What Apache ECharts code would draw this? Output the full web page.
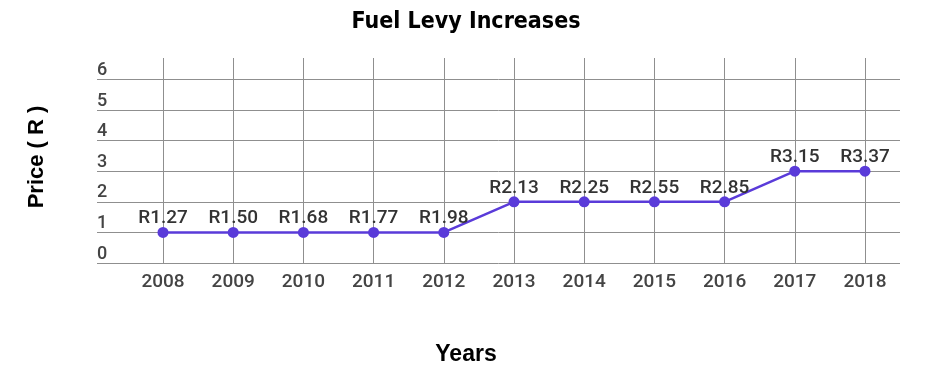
<!DOCTYPE html>
<html>
<head>
<meta charset="utf-8">
<script src="https://cdn.jsdelivr.net/npm/echarts@6/dist/echarts.min.js"></script>
<style>
html,body{margin:0;padding:0;background:#fff;}
#chart{width:941px;height:377px;}
</style>
</head>
<body>
<div id="chart"></div>
<script>
// Data
const years = ['2008','2009','2010','2011','2012','2013','2014','2015','2016','2017','2018'];
// Values as plotted in the reference (points sit on whole-rand gridlines)
const levyPlotted = [1, 1, 1, 1, 1, 2, 2, 2, 2, 3, 3];
// Data labels as printed in the reference
const levyLabels = ['R1.27','R1.50','R1.68','R1.77','R1.98','R2.13','R2.25','R2.55','R2.85','R3.15','R3.37'];
const yMin = 0, yMax = 6.7, yStep = 1;

const chart = echarts.init(document.getElementById('chart'), null, {renderer: 'canvas'});
const gridColor = '#8f8f8f';
const option = {
  animation: false,
  backgroundColor: '#fff',
  graphic: [
    {type: 'text', x: 466, y: 22, style: {text: 'Fuel Levy Increases', fontFamily: '"DejaVu Sans Condensed", "Liberation Sans"', fontWeight: 'bold', fontSize: 23, fill: '#000', textAlign: 'center', textVerticalAlign: 'middle'}},
    {type: 'text', x: 466, y: 355, style: {text: 'Years', fontFamily: 'Liberation Sans', fontWeight: 'bold', fontSize: 23, fill: '#000', textAlign: 'center', textVerticalAlign: 'middle'}},
    {type: 'text', x: 37, y: 157, rotation: Math.PI / 2, style: {text: 'Price ( R )', fontFamily: 'Liberation Sans', fontWeight: 'bold', fontSize: 22, fill: '#000', textAlign: 'center', textVerticalAlign: 'middle'}}
  ],
  grid: [
    {left: 97, right: 41, top: 58, bottom: 114},
    {left: 163, right: 76, top: 58, bottom: 114}
  ],
  xAxis: [
    {gridIndex: 0, type: 'value', show: false, min: 0, max: 1},
    {gridIndex: 1, type: 'category', data: years, boundaryGap: false,
      axisLine: {show: false}, axisTick: {show: false},
      splitLine: {show: true, interval: 0, lineStyle: {color: gridColor, width: 1}},
      axisLabel: {margin: 10, fontFamily: 'Roboto', fontWeight: 500, fontSize: 19, color: '#444', interval: 0}}
  ],
  yAxis: [
    {gridIndex: 0, type: 'value', min: yMin, max: yMax, interval: yStep,
      axisLine: {show: false}, axisTick: {show: false},
      splitLine: {show: true, showMaxLine: false, lineStyle: {color: gridColor, width: 1}},
      axisLabel: {inside: true, margin: 0, align: 'left', verticalAlign: 'bottom', padding: [0,0,0,0],
        fontFamily: 'Roboto', fontWeight: 500, fontSize: 18, color: '#444',
        formatter: v => (Math.abs(v - Math.round(v)) < 1e-6 ? String(Math.round(v)) : '')}},
    {gridIndex: 1, type: 'value', min: yMin, max: yMax, interval: yStep, show: false, splitLine: {show: false}}
  ],
  series: [{
    type: 'line', xAxisIndex: 1, yAxisIndex: 1,
    data: levyPlotted,
    symbol: 'circle', symbolSize: 11,
    itemStyle: {color: '#5a3bd9'},
    lineStyle: {color: '#5a3bd9', width: 2.5},
    label: {show: true, position: 'top', distance: -1, fontFamily: 'Roboto', fontWeight: 500, fontSize: 19, color: '#333',
      formatter: p => levyLabels[p.dataIndex]}
  }]
};
chart.setOption(option);
</script>
</body>
</html>
